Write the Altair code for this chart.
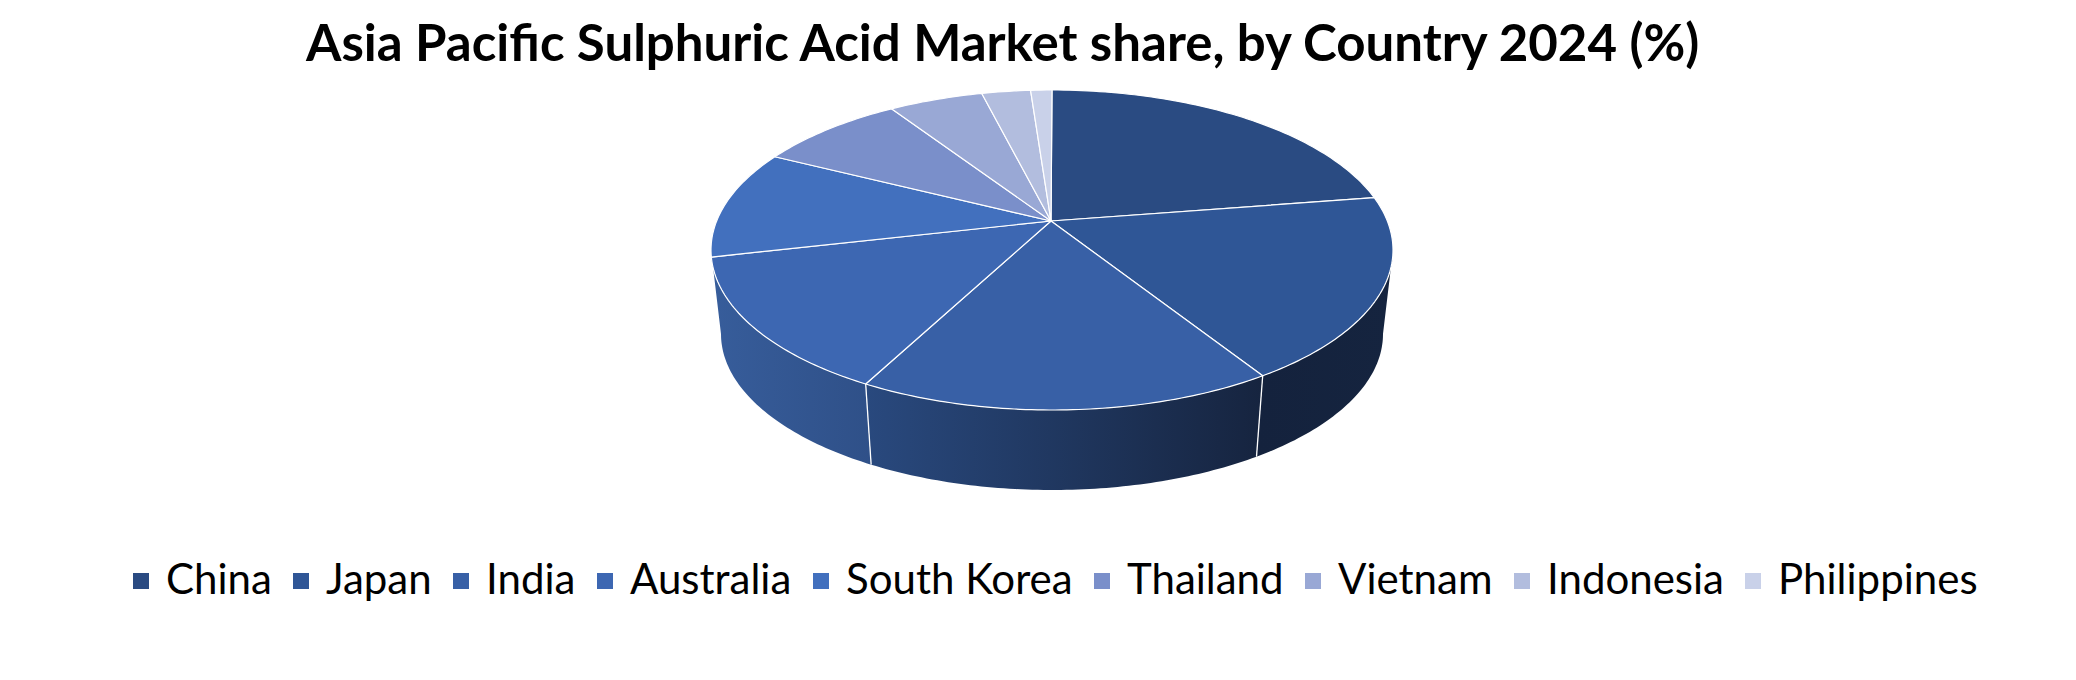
import math
import altair as alt
import pandas as pd

countries = ["China", "Japan", "India", "Australia", "South Korea", "Thailand", "Vietnam", "Indonesia", "Philippines"]
shares = [19.7, 19.7, 19.8, 15.1, 10.6, 7.3, 4.5, 2.3, 1.0]
colors = ["#2a4b82", "#2f5696", "#3860a6", "#3d67b2", "#4270be", "#7a8fca", "#99a8d5", "#b2bdde", "#c9d1e9"]

WIDTH, HEIGHT, TOP = 2060, 594, 70
# disc geometry, in chart units
CX, CY, A, B = 1044, 172, 341, 160
CX2, CY2, A2, B2 = 1044, 256, 331, 156
AX, AY = 1043, 143


def rim(t):
    r = math.radians(t)
    return CX + A * math.sin(r), CY - B * math.cos(r)


def floor(t):
    r = math.radians(t)
    return CX2 + A2 * math.sin(r), CY2 - B2 * math.cos(r)


total = sum(shares)
edges = [0.0]
for s in shares:
    edges.append(edges[-1] + s / total * 360)

top_rows = []
for k, name in enumerate(countries):
    pts = [(AX, AY)]
    n = max(2, int(edges[k + 1] - edges[k]) + 1)
    pts += [rim(edges[k] + (edges[k + 1] - edges[k]) * j / n) for j in range(n + 1)]
    pts.append((AX, AY))
    for i, (x, y) in enumerate(pts):
        top_rows.append({"country": name, "i": i, "x": x, "y": y})
top = pd.DataFrame(top_rows)

x_scale = alt.Scale(domain=[0, WIDTH], range=[0, WIDTH])
y_scale = alt.Scale(domain=[0, HEIGHT], range=[0, HEIGHT])
X = alt.X("x:Q", scale=x_scale, axis=None)
Y = alt.Y("y:Q", scale=y_scale, axis=None)

wall_styles = [
    (90, edges[2], "#15243f", "#14223d"),
    (edges[2], edges[3], "#16243f", "#29497e"),
    (edges[3], 270, "#2f5088", "#375d9b"),
]
layers = []
for t0, t1, c_right, c_left in wall_styles:
    n = int(t1 - t0) + 1
    ts = [t0 + (t1 - t0) * j / n for j in range(n + 1)]
    pts = [rim(t) for t in ts] + [floor(t) for t in reversed(ts)]
    pts.append(pts[0])
    wall = pd.DataFrame([{"i": i, "x": x, "y": y} for i, (x, y) in enumerate(pts)])
    grad = alt.Gradient(
        gradient="linear", x1=0, x2=1, y1=0, y2=0,
        stops=[alt.GradientStop(color=c_left, offset=0), alt.GradientStop(color=c_right, offset=1)],
    )
    layers.append(
        alt.Chart(wall).mark_line(fill=grad, strokeWidth=0).encode(x=X, y=Y, order="i:Q")
    )

sep_rows = []
for e in (edges[2], edges[3]):
    for i, (x, y) in enumerate((rim(e), floor(e))):
        sep_rows.append({"edge": e, "i": i, "x": x, "y": y})
layers.append(
    alt.Chart(pd.DataFrame(sep_rows))
    .mark_line(color="white", strokeWidth=1.3)
    .encode(x=X, y=Y, order="i:Q", detail="edge:N")
)

layers.append(
    alt.Chart(top)
    .mark_line(filled=True, stroke="white", strokeWidth=1.2, strokeJoin="round")
    .encode(
        x=X,
        y=Y,
        order="i:Q",
        detail="country:N",
        color=alt.Color(
            "country:N",
            sort=countries,
            scale=alt.Scale(domain=countries, range=colors),
            legend=alt.Legend(
                title=None,
                orient="none",
                legendX=112,
                legendY=479,
                direction="horizontal",
                columns=9,
                symbolType="square",
                symbolSize=256,
                symbolStrokeWidth=0,
                labelFont="Lato",
                labelFontSize=42,
                labelColor="black",
                labelLimit=400,
                labelOffset=4,
                columnPadding=8,
                clipHeight=48,
            ),
        ),
    )
)

chart = alt.layer(*layers, view=alt.ViewConfig(stroke=None)).properties(
    width=WIDTH,
    height=HEIGHT,
    background="white",
    padding={"left": 0, "right": 0, "top": TOP, "bottom": 0},
    autosize=alt.AutoSizeParams(type="none"),
    title=alt.TitleParams(
        "Asia Pacific Sulphuric Acid Market share, by Country 2024 (%)",
        anchor="start",
        dx=298,
        offset=6,
        font="Lato",
        fontSize=51,
        fontWeight="bold",
        color="black",
    ),
).configure_view(stroke=None)

chart.save("out.html", embed_options={"renderer": "svg", "actions": False})
